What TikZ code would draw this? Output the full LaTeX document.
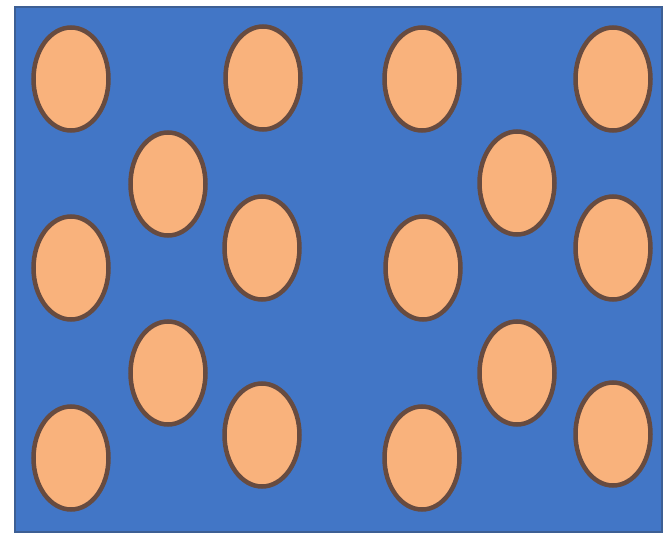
\documentclass[tikz,border=0pt]{standalone}
\usetikzlibrary{shapes.geometric}
\definecolor{bgblue}{HTML}{4276C6}
\definecolor{rimblue}{HTML}{3D5F94}
\definecolor{blobfill}{HTML}{F9B27C}
\definecolor{blobrim}{HTML}{674B40}
\tikzset{
  blob/.style={ellipse, draw=blobrim, fill=blobfill, line width=4.5pt,
    minimum width=75pt, minimum height=103pt, inner sep=0pt},
  panel/.style={fill=bgblue, draw=rimblue, line width=1.5pt}
}
\begin{document}
\begin{tikzpicture}[x=1pt,y=-1pt]
\useasboundingbox (0,0) rectangle (664,538);
\fill[white] (0,0) rectangle (664,538);
\draw[panel] (15,7) rectangle (662,532);
% row 1
\node[blob] (a1) at (71,79) {};
\node[blob] (a2) at (263,78) {};
\node[blob] (a3) at (422,79) {};
\node[blob] (a4) at (613,79) {};
% row 2
\node[blob] (b1) at (168,184) {};
\node[blob] (b2) at (517,183) {};
% row 3
\node[blob] (c1) at (71,268) {};
\node[blob] (c2) at (262,248) {};
\node[blob] (c3) at (423,268) {};
\node[blob] (c4) at (613,248) {};
% row 4
\node[blob] (d1) at (168,373) {};
\node[blob] (d2) at (517,373) {};
% row 5
\node[blob] (e1) at (71,458) {};
\node[blob] (e2) at (262,435) {};
\node[blob] (e3) at (422,458) {};
\node[blob] (e4) at (613,434) {};
\end{tikzpicture}
\end{document}
